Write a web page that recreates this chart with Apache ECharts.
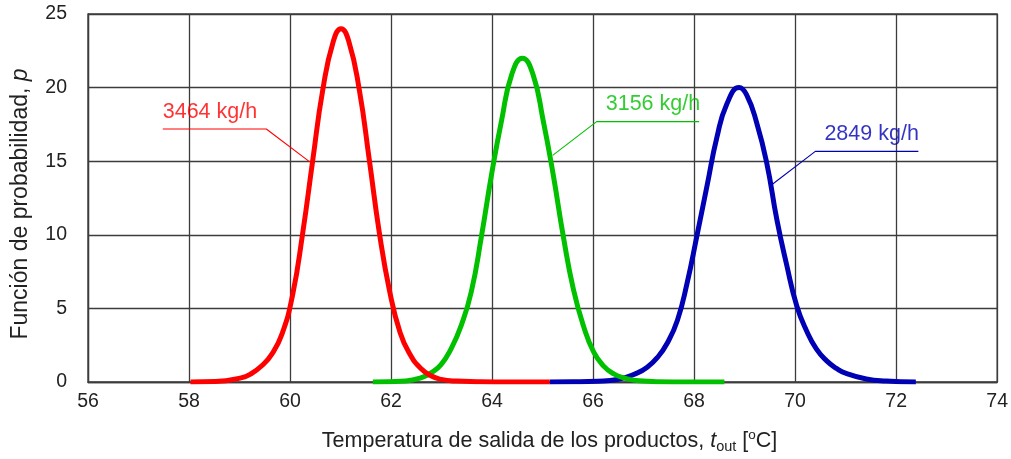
<!DOCTYPE html>
<html><head><meta charset="utf-8">
<script src="https://cdn.jsdelivr.net/npm/echarts@6/dist/echarts.min.js"></script>
<style>html,body{margin:0;padding:0;background:#fff}#c{width:1011px;height:459px}</style>
</head><body><div id="c"></div>
<script>
// Axis ticks
const xMin = 56, xMax = 74, xStep = 2;
const yMin = 0, yMax = 25, yStep = 5;

// Series: 3464 kg/h (red)
const redX = [58.03, 58.52, 59.03, 59.23, 59.44, 59.64, 59.84, 60.05, 60.25, 60.45, 60.65, 60.86, 61.01, 61.16, 61.37, 61.57, 61.77, 61.97, 62.18, 62.38, 62.58, 62.79, 62.99, 63.29, 63.70, 64.31, 65.14];
const redY = [0.0, 0.03, 0.28, 0.56, 1.1, 1.9, 3.25, 5.9, 10.1, 15.07, 19.88, 23.18, 24.0, 23.18, 19.88, 15.07, 10.1, 6.2, 3.35, 1.85, 0.95, 0.42, 0.18, 0.06, 0.02, 0.0, 0.0];

// Series: 3156 kg/h (green)
const greenX = [61.64, 62.29, 62.59, 62.79, 62.99, 63.19, 63.39, 63.59, 63.79, 63.99, 64.19, 64.39, 64.60, 64.81, 65.01, 65.21, 65.41, 65.61, 65.81, 66.01, 66.21, 66.41, 66.61, 66.91, 67.60, 68.60];
const greenY = [0.0, 0.07, 0.28, 0.62, 1.18, 2.27, 3.85, 6.15, 9.9, 14.1, 17.8, 20.9, 22.0, 20.9, 17.8, 14.1, 9.9, 6.3, 3.8, 2.05, 1.08, 0.55, 0.28, 0.08, 0.0, 0.0];

// Series: 2849 kg/h (blue)
const blueX = [65.14, 65.60, 66.09, 66.48, 66.88, 67.07, 67.27, 67.47, 67.67, 67.86, 68.06, 68.26, 68.45, 68.65, 68.89, 69.04, 69.24, 69.44, 69.64, 69.83, 70.03, 70.23, 70.42, 70.62, 70.82, 71.01, 71.41, 71.80, 72.39];
const blueY = [0.0, 0.01, 0.05, 0.17, 0.62, 1.0, 1.65, 2.65, 4.2, 6.7, 10.0, 13.4, 16.6, 18.9, 20.0, 19.5, 17.6, 14.85, 11.0, 8.0, 5.2, 3.45, 2.25, 1.45, 0.92, 0.58, 0.2, 0.06, 0.0];

// Annotations (data coordinates): underline end joined to curve, underline other end
const labelTexts = ['3464 kg/h', '3156 kg/h', '2849 kg/h'];
const labelAnchors = [[57.48, 18.37], [66.25, 18.88], [70.58, 16.86]];
const leaderRed = [[57.48, 17.19], [59.53, 17.19], [60.39, 14.95]];
const leaderGreen = [[68.10, 17.69], [66.07, 17.69], [65.20, 15.40]];
const leaderBlue = [[72.44, 15.67], [70.40, 15.67], [69.55, 13.43]];

const colors = ['#ff0000', '#00c000', '#0000b4'];
const FONT = '"Liberation Sans", Arial, Helvetica, sans-serif';
const GRID = '#3c3c3c';

function zip(xs, ys) { return xs.map((x, i) => [x, ys[i]]); }

function curve(name, xs, ys, color) {
  return {
    name, type: 'line', data: zip(xs, ys), smooth: 0.5,
    symbol: 'none', silent: true, animation: false,
    lineStyle: { color, width: 5, cap: 'butt', join: 'round' }, z: 3
  };
}
function leader(pts, color) {
  return {
    type: 'line', data: pts, smooth: false, symbol: 'none', silent: true, animation: false,
    lineStyle: { color, width: 1.1 }, z: 4
  };
}
function label(idx) {
  return {
    type: 'scatter', data: [labelAnchors[idx]], symbolSize: 0, silent: true, animation: false, z: 5,
    label: {
      show: true, position: 'right', distance: 0, formatter: labelTexts[idx],
      color: colors[idx], fontFamily: FONT, fontSize: 21.5
    }
  };
}

const chart = echarts.init(document.getElementById('c'), null, { renderer: 'canvas' });
chart.setOption({
  animation: false,
  backgroundColor: '#fff',
  grid: { left: 88, right: 13, top: 14, bottom: 73.5, show: true, borderColor: GRID, borderWidth: 1.3 },
  xAxis: {
    type: 'value', min: xMin, max: xMax, interval: xStep,
    name: 'Temperatura de salida de los productos, {i|t}{sub|out} [{sup|o}C]',
    nameLocation: 'middle', nameGap: 46,
    nameTextStyle: {
      color: '#222', fontFamily: FONT, fontSize: 21.5, lineHeight: 26, padding: [0, 0, 0, 14],
      rich: {
        i: { fontStyle: 'italic', fontSize: 21.5, lineHeight: 26, fontFamily: FONT, color: '#222' },
        sub: { fontSize: 14.5, lineHeight: 14, verticalAlign: 'bottom', fontFamily: FONT, color: '#222' },
        sup: { fontSize: 13.5, lineHeight: 13, verticalAlign: 'top', fontFamily: FONT, color: '#222' }
      }
    },
    axisLine: { show: true, lineStyle: { color: GRID, width: 1.3 } },
    axisTick: { show: false },
    axisLabel: { color: '#222', fontFamily: FONT, fontSize: 19.5, margin: 10 },
    splitLine: { show: true, lineStyle: { color: GRID, width: 1.3 } }
  },
  yAxis: {
    type: 'value', min: yMin, max: yMax, interval: yStep,
    name: 'Función de probabilidad, {i|p}',
    nameLocation: 'middle', nameGap: 56,
    nameTextStyle: {
      color: '#222', fontFamily: FONT, fontSize: 23, padding: [0, 12, 0, 0],
      rich: { i: { fontStyle: 'italic', fontSize: 23, fontFamily: FONT, color: '#222' } }
    },
    axisLine: { show: true, lineStyle: { color: GRID, width: 1.3 } },
    axisTick: { show: false },
    axisLabel: { color: '#222', fontFamily: FONT, fontSize: 19.5, margin: 21 },
    splitLine: { show: true, lineStyle: { color: GRID, width: 1.3 } }
  },
  series: [
    curve('2849 kg/h', blueX, blueY, colors[2]),
    curve('3156 kg/h', greenX, greenY, colors[1]),
    curve('3464 kg/h', redX, redY, colors[0]),
    leader(leaderRed, colors[0]),
    leader(leaderGreen, colors[1]),
    leader(leaderBlue, colors[2]),
    label(0), label(1), label(2)
  ]
});
</script></body></html>
